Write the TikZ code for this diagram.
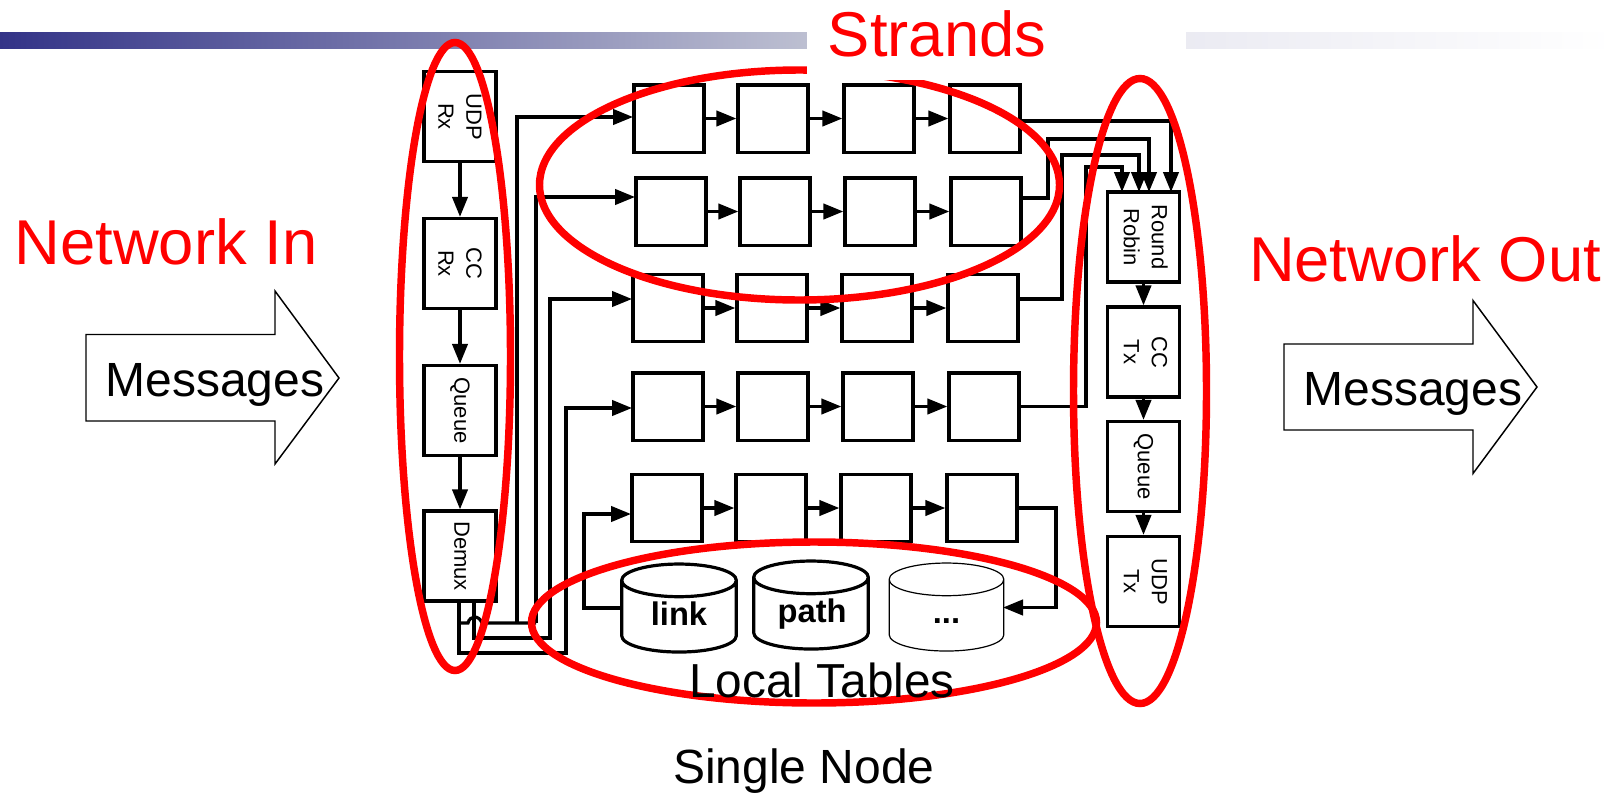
\documentclass[tikz,border=0pt]{standalone}
\usepackage{fontspec}
\usepackage{graphicx}
\setmainfont{Liberation Sans}
\usetikzlibrary{arrows.meta,shapes.geometric}
\definecolor{netred}{rgb}{1,0,0}
\definecolor{barblue}{rgb}{0.20,0.20,0.53}
\definecolor{barmid}{rgb}{0.74,0.75,0.82}
\definecolor{barpale}{rgb}{0.92,0.92,0.95}
\newcommand{\sidetext}[1]{\rotatebox{-90}{\begin{tabular}{@{}c@{}}#1\end{tabular}}}
\tikzset{
    stagebox/.style={draw,line width=2.5pt,inner sep=0pt,minimum width=54pt,minimum height=67.5pt,font=\fontsize{16.5}{21}\selectfont},
    strandbox/.style={draw,line width=2.5pt,inner sep=0pt,minimum width=52.5pt,minimum height=50.5pt},
    wire/.style={line width=2.4pt},
    flow/.style={wire,-{Triangle[length=15pt,width=11.5pt]}},
    ring/.style={draw=netred,line width=5.6pt},
    tablecyl/.style={draw,cylinder,shape border rotate=90,aspect=0.49,inner sep=0pt,minimum width=86pt,minimum height=66pt,text width=50pt,align=center,text height=18pt,text depth=6pt,font=\fontsize{24.5}{28}\selectfont\bfseries},
    bigred/.style={text=netred,inner sep=0pt,anchor=base,font=\fontsize{47.5}{52}\selectfont},
    bigtext/.style={inner sep=0pt,anchor=base,font=\fontsize{36}{40}\selectfont},
    blockarrow/.style={draw,line width=1.1pt,fill=white}
}
\begin{document}
\begin{tikzpicture}[x=0.75pt,y=0.75pt,yscale=-1]
        \useasboundingbox (0,0) rectangle (1614,793);

        %Title bar
        \shade [left color=barblue,right color=barmid] (0,32) rectangle (807,48);
        \shade [left color=barpale,right color=white] (1186,32) rectangle (1614,48);

        %Receive column
        \node [stagebox] (udprx) at (460,116.5) {\kern-3pt\sidetext{UDP\\Rx}};
        \node [stagebox] (ccrx) at (460,263.5) {\kern-3pt\sidetext{CC\\Rx}};
        \node [stagebox] (queuerx) at (460,410.5) {\sidetext{Queue}};
        \node [stagebox] (demux) at (460,556) {\sidetext{Demux}};
        %Transmit column
        \node [stagebox] (rrobin) at (1143.5,237) {\sidetext{Round\\Robin}};
        \node [stagebox] (cctx) at (1143.5,352) {\sidetext{CC\\Tx}};
        \node [stagebox] (queuetx) at (1143.5,466.5) {\sidetext{Queue}};
        \node [stagebox] (udptx) at (1143.5,581.5) {\sidetext{UDP\\Tx}};

        %Strand boxes
        \node [strandbox] (a1) at (669,118.5) {};
        \node [strandbox] (a2) at (773,118.5) {};
        \node [strandbox] (a3) at (879,118.5) {};
        \node [strandbox] (a4) at (985,118.5) {};
        \node [strandbox] (b1) at (671,211.5) {};
        \node [strandbox] (b2) at (775,211.5) {};
        \node [strandbox] (b3) at (880,211.5) {};
        \node [strandbox] (b4) at (986,211.5) {};
        \node [strandbox] (c1) at (668,308) {};
        \node [strandbox] (c2) at (772,308) {};
        \node [strandbox] (c3) at (877,308) {};
        \node [strandbox] (c4) at (983,308) {};
        \node [strandbox] (d1) at (668,406.5) {};
        \node [strandbox] (d2) at (773,406.5) {};
        \node [strandbox] (d3) at (878,406.5) {};
        \node [strandbox] (d4) at (984,406.5) {};
        \node [strandbox] (e1) at (667,508) {};
        \node [strandbox] (e2) at (771,508) {};
        \node [strandbox] (e3) at (876,508) {};
        \node [strandbox] (e4) at (982,508) {};

        %Tables
        \node [tablecyl,line width=2.4pt] (link) at (679,617) {link};
        \node [tablecyl,line width=2.4pt] (path) at (811,614) {path};
        \node [tablecyl,line width=0.9pt] (dots) at (946.5,615.5) {...};

        %Named ends
        \coordinate (demuxa) at (459,601);
        \coordinate (demuxb) at (474,601);
        \coordinate (hopl) at (468,623);
        \coordinate (hopr) at (482,623);
        \coordinate (busa) at (517,623);
        \coordinate (busb) at (536,623);
        \coordinate (busc) at (550,638);
        \coordinate (busd) at (566,653);
        \coordinate (a1in) at (633,117);
        \coordinate (b1in) at (635,197);
        \coordinate (c1in) at (632,299);
        \coordinate (d1in) at (632,408);
        \coordinate (e1in) at (631,514);
        \coordinate (linkport) at (622,608);
        \coordinate (dotsport) at (1003,607.5);
        \coordinate (linkbend) at (584,608);
        \coordinate (a4out) at (1021,121);
        \coordinate (b4out) at (1022,198);
        \coordinate (c4out) at (1019,299);
        \coordinate (rowb) at (1048,139);
        \coordinate (rowc) at (1062,155);
        \coordinate (rowd) at (1086,167);
        \coordinate (rowe) at (1056,607.5);
        \coordinate (rra) at (1171,192);
        \coordinate (rrb) at (1149,192);
        \coordinate (rrc) at (1139,192);
        \coordinate (rrd) at (1122,192);

        %Straight Lines
        \draw [flow] (udprx) -- (ccrx);
        \draw [flow] (ccrx) -- (queuerx);
        \draw [flow] (queuerx) -- (demux);
        \draw [flow] (rrobin) -- (cctx);
        \draw [flow] (cctx) -- (queuetx);
        \draw [flow] (queuetx) -- (udptx);
        \draw [flow] (a1) -- (a2);
        \draw [flow] (a2) -- (a3);
        \draw [flow] (a3) -- (a4);
        \draw [flow] (b1) -- (b2);
        \draw [flow] (b2) -- (b3);
        \draw [flow] (b3) -- (b4);
        \draw [flow] (c1) -- (c2);
        \draw [flow] (c2) -- (c3);
        \draw [flow] (c3) -- (c4);
        \draw [flow] (d1) -- (d2);
        \draw [flow] (d2) -- (d3);
        \draw [flow] (d3) -- (d4);
        \draw [flow] (e1) -- (e2);
        \draw [flow] (e2) -- (e3);
        \draw [flow] (e3) -- (e4);

        %Demux fan out
        \draw [wire] (demuxa) |- (hopl) .. controls (470,615) and (479,615) .. (hopr) -- (busb);
        \draw [flow] (busa) |- (a1in);
        \draw [flow] (busb) |- (b1in);
        \draw [flow] (demuxb) |- (busc) |- (c1in);
        \draw [flow] (demuxa) |- (busd) |- (d1in);
        \draw [flow] (linkport) -- (linkbend) |- (e1in);

        %Strand outputs
        \draw [flow] (a4out) -| (rra);
        \draw [flow] (b4out) -| (rowb) -| (rrb);
        \draw [flow] (c4out) -| (rowc) -| (rrc);
        \draw [flow] (d4.east) -| (rowd) -| (rrd);
        \draw [flow] (e4.east) -| (rowe) -- (dotsport);

        %Block arrows
        \draw [blockarrow] (86,334.5) -- (275,334.5) -- (275,291) -- (339,378) -- (275,464) -- (275,421) -- (86,421) -- cycle;
        \draw [blockarrow] (1284,344) -- (1473,344) -- (1473,300.5) -- (1537,387) -- (1473,473.5) -- (1473,430) -- (1284,430) -- cycle;

        %Strands ring, cut by the title box
        \draw [ring] (799.5,185) ellipse [x radius=260,y radius=115];
        \fill [white] (807,0) rectangle (1186,80);

        %Other rings
        \draw [ring] (455,356.5) ellipse [x radius=55.5,y radius=314];
        \draw [ring] (814,622.5) ellipse [x radius=282.5,y radius=80.5];
        \draw [ring] (1140,391) ellipse [x radius=66.5,y radius=312.5];

        % Text Node
        \node [bigred] (strands) at (937,56.5) {Strands};
        % Text Node
        \node [bigred] (netin) at (166,264.5) {Network In};
        % Text Node
        \node [bigred] (netout) at (1425,281) {Network Out};
        % Text Node
        \node [bigtext] (msgin) at (215,396) {Messages};
        % Text Node
        \node [bigtext] (msgout) at (1413,405) {Messages};
        % Text Node
        \node [bigtext,font=\fontsize{35.8}{40}\selectfont] (tables) at (822,697) {Local Tables};
        % Text Node
        \node [bigtext] (single) at (804,783) {Single Node};

\end{tikzpicture}
\end{document}
